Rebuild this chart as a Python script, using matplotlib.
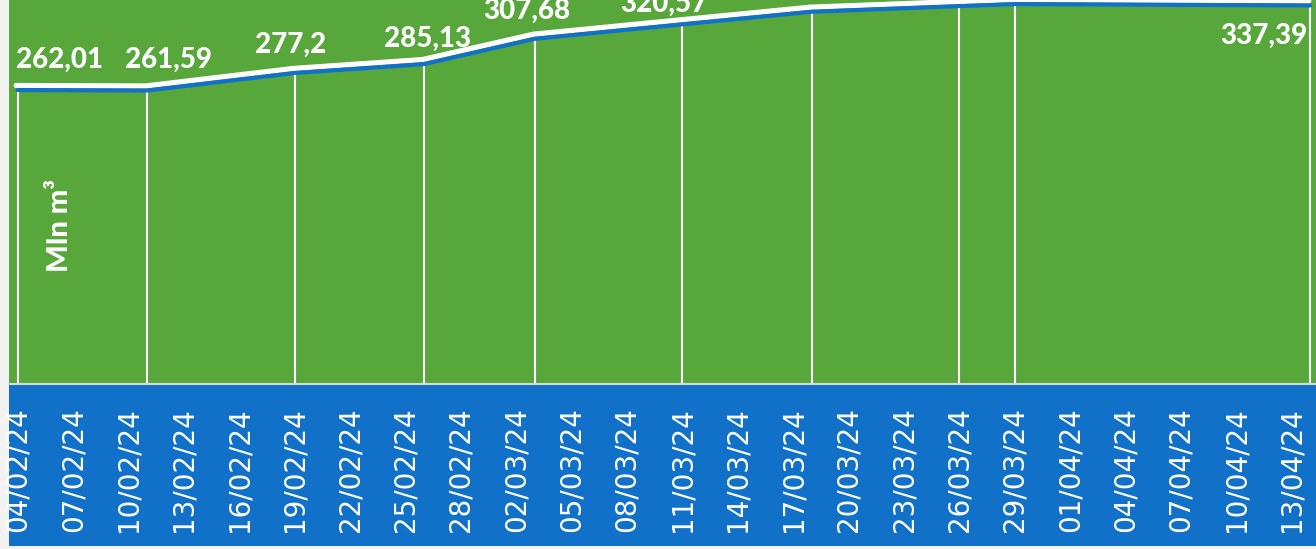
# reservoir volume (Mln m3) between February and April 2024, drawn as an area chart

import numpy as np
import pandas as pd
import matplotlib
matplotlib.use('Agg')
import matplotlib.pyplot as plt
import matplotlib.dates as mdates
import matplotlib.transforms as mtransforms
from matplotlib.patches import Rectangle

# measured points
dates = pd.to_datetime(['2024-02-04', '2024-02-11', '2024-02-19', '2024-02-26', '2024-03-03',
                        '2024-03-11', '2024-03-18', '2024-03-26', '2024-03-29', '2024-04-14'])
volumes = [262.01, 261.59, 277.2, 285.13, 307.68, 320.57, 331.8, 336.8, 338.6, 337.39]

# date axis labels every 3 days
tick_dates = pd.date_range('2024-02-04', '2024-04-13', freq='3D')

# data label offsets in pixels (dx, dy) from each point, None = no label
label_dx = [42, 21, -4, 4, -8, -19, None, None, None, -46]
label_dy = [22, 23, 20, 17, 20, 13, None, None, None, -38]

green = '#57A73B'
blue = '#1170C8'

W, H = 1316, 549
fig = plt.figure(figsize=(W / 100, H / 100), dpi=100, facecolor='#f3f3f3')

# blue band behind the date labels
fig.add_artist(Rectangle((8.5 / W, 3 / H), 1 - 8.5 / W, (546 - 385) / H,
                         transform=fig.transFigure, facecolor=blue, edgecolor='none', zorder=0))

ymax = 400
px_per_unit = 1.122
ax = fig.add_axes([8.5 / W, (H - 384) / H, 1311 / W, ymax * px_per_unit / H])
ax.set_facecolor(green)

ax.fill_between(dates, volumes, color=green, zorder=1)
ax.vlines(dates, 0, volumes, color='white', lw=1.5, zorder=2)

# white highlight just above the blue line
shifted = mtransforms.offset_copy(ax.transData, fig=fig, x=-1.5, y=4.5, units='dots')
ax.plot(dates, volumes, color='white', lw=3.8, solid_capstyle='round', transform=shifted, zorder=3)
ax.plot(dates, volumes, color=blue, lw=3, solid_capstyle='round', zorder=4)

for d, v, dx, dy in zip(dates, volumes, label_dx, label_dy):
    if dx is None:
        continue
    ax.annotate(f'{v:g}'.replace('.', ','), (d, v), xytext=(dx, dy), textcoords='offset pixels',
                ha='center', va='baseline', color='white', fontsize=20,
                fontweight='black', family='Lato', zorder=5)

ax.set_xlim(dates[0] - pd.Timedelta(hours=12), dates[-1] + pd.Timedelta(hours=12))
ax.set_ylim(0, ymax)
ax.set_xticks(tick_dates)
ax.xaxis.set_major_formatter(mdates.DateFormatter('%d/%m/%y'))
ax.tick_params(axis='x', length=0, pad=16.5, labelsize=20, labelcolor='white', labelrotation=90)
ax.set_yticks([])
for s in ['top', 'left', 'right']:
    ax.spines[s].set_visible(False)
ax.spines['bottom'].set_color('#d5dcd5')
ax.spines['bottom'].set_linewidth(1.5)

ax.text(51 / 1311, (384 - 225) / (ymax * px_per_unit), 'Mln m³', transform=ax.transAxes,
        rotation=90, ha='center', va='center', color='white', fontsize=21,
        fontweight='black', family='Lato')

fig.savefig('out.png', dpi=100)
